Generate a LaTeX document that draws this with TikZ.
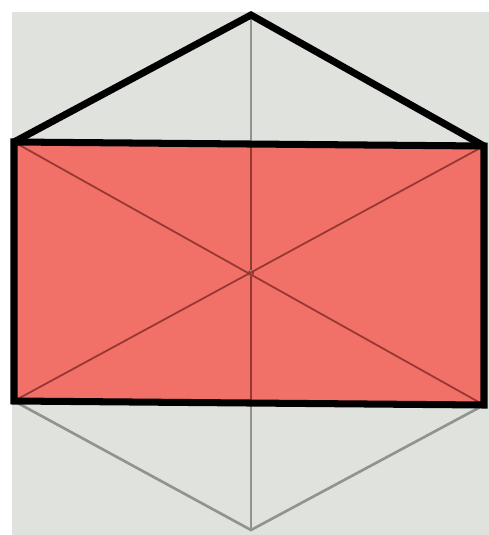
\documentclass[tikz,border=0pt]{standalone}
\usepackage{tikz}
\definecolor{paper}{RGB}{224,226,221}
\definecolor{rectfill}{RGB}{241,112,104}
\definecolor{diagred}{RGB}{150,55,50}
\definecolor{guide}{RGB}{145,147,143}

\begin{document}
\begin{tikzpicture}[
  x=0.02cm, y=-0.02cm,
  guideline/.style={draw=guide, line width=1.5pt},
  diagline/.style={draw=diagred, line width=1pt},
  outline/.style={draw=black, line width=4pt, line join=miter},
  dot/.style={circle, fill=diagred, inner sep=0pt, minimum size=3.5pt}
]
\useasboundingbox (0,0) rectangle (489,535);
\fill[white] (0,0) rectangle (489,535);
\fill[paper] (12,12) rectangle (489,535);

% hexagon corners
\coordinate (top) at (251,15);
\coordinate (bot) at (251,530);
\coordinate (tl) at (14,142);
\coordinate (tr) at (484,146);
\coordinate (br) at (484,405);
\coordinate (bl) at (14,401);

% inscribed rectangle
\fill[rectfill] (tl) -- (tr) -- (br) -- (bl) -- cycle;
\node[dot] (centre) at (251,273) {};

\draw[guideline] (top) -- (bot);
\draw[diagline] (centre) -- (top |- tl);
\draw[diagline] (centre) -- (bot |- bl);
\draw[guideline] (bl) -- (bot) -- (br);
\draw[diagline] (tl) -- (br);
\draw[diagline] (tr) -- (bl);

\draw[outline] (tl) -- (top) -- (tr);
\draw[outline] (tl) -- (tr) -- (br) -- (bl) -- cycle;
\end{tikzpicture}
\end{document}
